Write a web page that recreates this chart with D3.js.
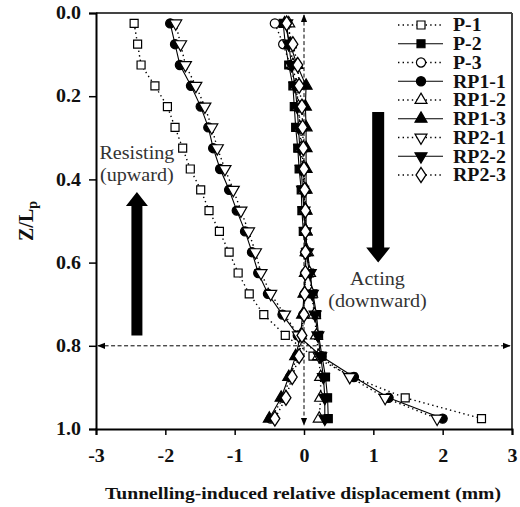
<!DOCTYPE html>
<html><head><meta charset="utf-8">
<script src="https://cdn.jsdelivr.net/npm/d3@7"></script>
<style>body{margin:0;background:#fff}svg{display:block}</style>
</head><body><svg id="c" width="520" height="507"></svg>
<script>
const zValues = [0.025,0.075,0.125,0.175,0.225,0.275,0.325,0.375,0.425,0.475,0.525,0.575,0.625,0.675,0.725,0.775,0.825,0.875,0.925,0.975];
const seriesNames = ["P-1","P-2","P-3","RP1-1","RP1-2","RP1-3","RP2-1","RP2-2","RP2-3"];
const p1   = [-2.45,-2.40,-2.35,-2.15,-1.97,-1.86,-1.75,-1.64,-1.49,-1.37,-1.22,-1.08,-0.95,-0.79,-0.58,-0.27,0.13,0.70,1.46,2.56];
const p2   = [-0.30,-0.27,-0.22,-0.16,-0.14,-0.12,-0.09,-0.07,-0.04,-0.03,-0.01,0.03,0.08,0.13,0.18,0.21,0.26,0.31,0.34,0.35];
const p3   = [-0.42,-0.30,-0.20,-0.12,-0.08,-0.05,-0.03,-0.01,0.00,0.01,0.02,0.02,0.02,0.01,-0.01,-0.04,-0.10,-0.20,-0.30,-0.48];
const rp11 = [-1.93,-1.86,-1.79,-1.63,-1.49,-1.38,-1.31,-1.21,-1.08,-0.97,-0.85,-0.75,-0.66,-0.52,-0.31,-0.09,0.25,0.72,1.22,2.00];
const rp12 = [-0.22,-0.20,-0.16,-0.11,-0.08,-0.06,-0.04,-0.02,0.00,0.01,0.03,0.05,0.08,0.11,0.15,0.18,0.21,0.24,0.24,0.22];
const rp13 = [-0.28,-0.20,-0.10,0.03,0.02,0.03,0.03,0.03,0.03,0.03,0.03,0.03,0.02,0.00,-0.02,-0.05,-0.12,-0.22,-0.33,-0.50];
const rp21 = [-1.85,-1.78,-1.71,-1.56,-1.43,-1.33,-1.25,-1.14,-1.02,-0.91,-0.80,-0.70,-0.62,-0.48,-0.28,-0.08,0.22,0.66,1.17,1.92];
const rp22 = [-0.25,-0.22,-0.18,-0.13,-0.10,-0.08,-0.06,-0.04,-0.02,0.00,0.02,0.05,0.09,0.12,0.16,0.20,0.24,0.28,0.30,0.30];
const rp23 = [-0.25,-0.16,-0.09,-0.07,-0.03,-0.02,-0.01,0.00,0.01,0.02,0.02,0.02,0.02,0.01,0.00,-0.03,-0.07,-0.17,-0.26,-0.42];
const xTicks = [-3,-2,-1,0,1,2,3];
const yTicks = [0.0,0.2,0.4,0.6,0.8,1.0];

const values = [p1,p2,p3,rp11,rp12,rp13,rp21,rp22,rp23];
const styles = [
  {sym:"square", fill:false}, {sym:"square", fill:true}, {sym:"circle", fill:false},
  {sym:"circle", fill:true}, {sym:"tri", fill:false}, {sym:"tri", fill:true},
  {sym:"tridown", fill:false}, {sym:"tridown", fill:true}, {sym:"diamond", fill:false}
];

const svg = d3.select("#c");
const x = d3.scaleLinear().domain([-3,3]).range([96,512]);
const y = d3.scaleLinear().domain([0,1]).range([13,429]);
const FONT = "'Liberation Serif','Times New Roman',serif";

function stretch(sel, k){
  sel.each(function(){
    const w = this.getComputedTextLength();
    d3.select(this).attr("textLength", w*k).attr("lengthAdjust","spacingAndGlyphs");
  });
}
function symPath(s){
  if(s==="square") return d3.symbol(d3.symbolSquare, 64)();
  if(s==="circle") return d3.symbol(d3.symbolCircle, 66)();
  if(s==="tri" || s==="tridown") return d3.symbol(d3.symbolTriangle, 62)();
  if(s==="diamond") return d3.symbol(d3.symbolDiamond, 64)();
}
function symTransform(s, px, py){
  let t = `translate(${px},${py})`;
  if(s==="tridown") t += " rotate(180)";
  if(s==="diamond") t += " scale(1.15,1)";
  return t;
}

// frame (top, right)
svg.append("line").attr("x1",x(-3)).attr("x2",x(3)).attr("y1",y(0)).attr("y2",y(0)).attr("stroke","#444").attr("stroke-width",2);
svg.append("line").attr("x1",x(3)).attr("x2",x(3)).attr("y1",y(0)).attr("y2",y(1)).attr("stroke","#444").attr("stroke-width",2);

// axes
const yAxis = d3.axisLeft(y).tickValues(yTicks).tickFormat(d3.format(".1f")).tickSize(7).tickPadding(8);
const xAxis = d3.axisBottom(x).tickValues(xTicks).tickFormat(d=>String(d)).tickSize(6).tickPadding(14);
const gy = svg.append("g").attr("transform",`translate(${x(-3)},0)`).call(yAxis);
const gx = svg.append("g").attr("transform",`translate(0,${y(1)})`).call(xAxis);
[gx,gy].forEach(g=>{
  g.select(".domain").attr("stroke","#000").attr("stroke-width",2);
  g.selectAll(".tick line").attr("stroke","#000").attr("stroke-width",1.5);
  g.selectAll(".tick text").attr("font-family",FONT).attr("font-weight","bold").attr("font-size",18).attr("fill","#111");
  stretch(g.selectAll(".tick text"), 1.11);
});

// arrow marker defs
const defs = svg.append("defs");
defs.append("marker").attr("id","ah").attr("viewBox","0 0 10 10").attr("refX",9).attr("refY",5)
  .attr("markerWidth",8).attr("markerHeight",8).attr("markerUnits","userSpaceOnUse").attr("orient","auto-start-reverse")
  .append("path").attr("d","M0,1 L10,5 L0,9 Z").attr("fill","#000");

// dashed reference lines
svg.append("line").attr("x1",x(-2.97)).attr("x2",x(2.97)).attr("y1",y(0.8)).attr("y2",y(0.8))
  .attr("stroke","#000").attr("stroke-width",1).attr("stroke-dasharray","4,2.5")
  .attr("marker-start","url(#ah)").attr("marker-end","url(#ah)");
svg.append("line").attr("x1",x(0)).attr("x2",x(0)).attr("y1",y(0.005)).attr("y2",y(0.99))
  .attr("stroke","#000").attr("stroke-width",1).attr("stroke-dasharray","4,2.5")
  .attr("marker-start","url(#ah)").attr("marker-end","url(#ah)");

// big arrows
function bigArrow(cx, yTail, yTip, shaftW, headW, headH){
  const dir = yTip < yTail ? -1 : 1;
  const yHeadBase = yTip - dir*headH;
  const p = [[cx-shaftW/2,yTail],[cx-shaftW/2,yHeadBase],[cx-headW/2,yHeadBase],[cx,yTip],
             [cx+headW/2,yHeadBase],[cx+shaftW/2,yHeadBase],[cx+shaftW/2,yTail]];
  svg.append("path").attr("d","M"+p.map(q=>q.join(",")).join("L")+"Z").attr("fill","#000");
}
bigArrow(x(-2.41), y(0.775), y(0.43), 11, 22, 14);
bigArrow(x(1.07), y(0.238), y(0.60), 12, 24, 15);

// annotation texts
const ann = svg.append("g").attr("font-family",FONT).attr("font-size",19).attr("fill","#333").attr("text-anchor","middle");
ann.append("text").attr("x",x(-2.41)).attr("y",159).text("Resisting");
ann.append("text").attr("x",x(-2.41)).attr("y",181).text("(upward)");
ann.append("text").attr("x",x(1.06)).attr("y",285).text("Acting");
ann.append("text").attr("x",x(1.06)).attr("y",307).text("(downward)");
stretch(ann.selectAll("text"), 1.06);

// series lines
const line = d3.line().x(d=>x(d[0])).y(d=>y(d[1]));
values.forEach((vals,i)=>{
  const pts = vals.map((v,j)=>[v,zValues[j]]);
  svg.append("path").attr("d",line(pts)).attr("fill","none").attr("stroke","#000")
    .attr("stroke-width", styles[i].fill?1.1:1.4)
    .attr("stroke-dasharray", styles[i].fill?null:"1.4,3.2");
});
// markers
values.forEach((vals,i)=>{
  const st = styles[i];
  svg.append("g").selectAll("path").data(vals.map((v,j)=>[v,zValues[j]])).join("path")
    .attr("d",symPath(st.sym)).attr("transform",d=>symTransform(st.sym,x(d[0]),y(d[1])))
    .attr("fill",st.fill?"#000":"#fff").attr("stroke","#000").attr("stroke-width",1.2);
});

// legend
const leg = svg.append("g");
seriesNames.forEach((name,i)=>{
  const ly = 25 + i*18.75, st = styles[i];
  leg.append("line").attr("x1",398).attr("x2",443).attr("y1",ly).attr("y2",ly).attr("stroke","#000")
    .attr("stroke-width",st.fill?1.2:1.4).attr("stroke-dasharray",st.fill?null:"1.4,3.2");
  leg.append("path").attr("d",symPath(st.sym)).attr("transform",symTransform(st.sym,421,ly))
    .attr("fill",st.fill?"#000":"#fff").attr("stroke","#000").attr("stroke-width",1.2);
  leg.append("text").attr("x",453).attr("y",ly).attr("dy","0.35em").attr("font-family",FONT)
    .attr("font-weight","bold").attr("font-size",18).attr("fill","#111").text(name);
});
stretch(leg.selectAll("text"), 1.1);

// axis titles
const yl = svg.append("text").attr("transform",`translate(33,${(y(0)+y(1))/2}) rotate(-90)`)
  .attr("text-anchor","middle").attr("font-family",FONT).attr("font-weight","bold").attr("font-size",20).attr("fill","#111");
yl.append("tspan").text("Z/L");
yl.append("tspan").attr("font-size",14).attr("dy",4).text("p");
const xl = svg.append("text").attr("x",303).attr("y",499).attr("text-anchor","middle").attr("font-family",FONT)
  .attr("font-weight","bold").attr("font-size",17.5).attr("fill","#111").text("Tunnelling-induced relative displacement (mm)");
stretch(xl, 1.12);
</script></body></html>
